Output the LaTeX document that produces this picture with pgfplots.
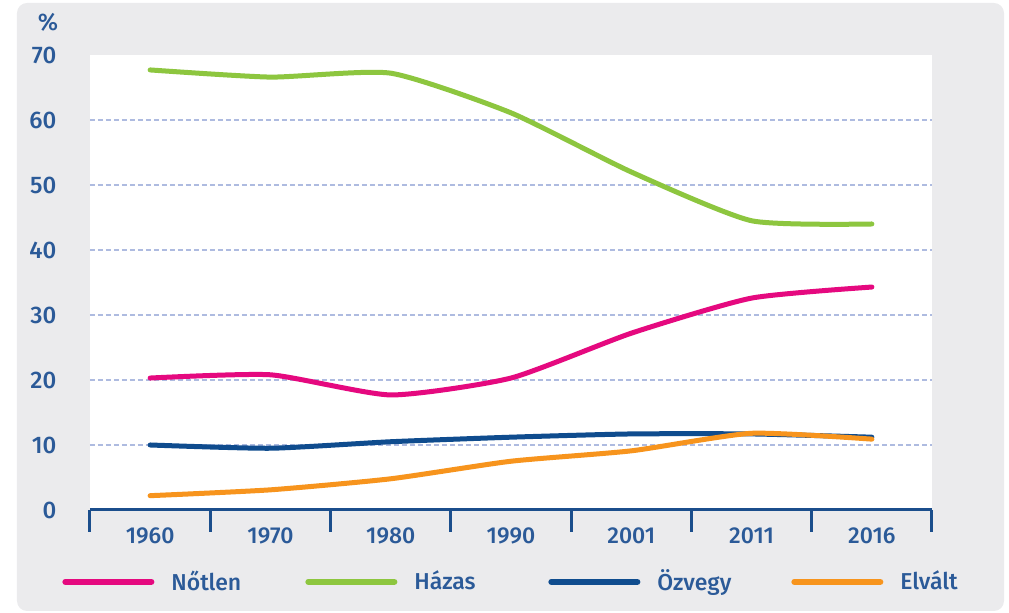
\documentclass[border=0pt]{standalone}
\usepackage{fontspec}
\setmainfont{Fira Sans}[UprightFont={* Medium}]
\usepackage{pgfplots}
\pgfplotsset{compat=1.18}

\definecolor{bgpanel}{HTML}{EBEBED}
\definecolor{txtblue}{HTML}{2B5A98}
\definecolor{axblue}{HTML}{1B4E8C}
\definecolor{gridblue}{HTML}{AEBBE0}
\definecolor{cNotlen}{HTML}{E5097F}
\definecolor{cHazas}{HTML}{8DC63F}
\definecolor{cOzvegy}{HTML}{0F4C8E}
\definecolor{cElvalt}{HTML}{F7941D}

\begin{document}
\begin{tikzpicture}
% page bounds and grey panel (1px = 0.5pt)
\path (-45pt,-51.5pt) rectangle (459.5pt,255pt);
\fill[bgpanel, rounded corners=5pt] (-36.5pt,-50.5pt) rectangle (457pt,253.5pt);
\begin{axis}[
    at={(0,0)}, anchor=south west,
    scale only axis,
    width=421pt, height=227.5pt,
    axis background/.style={fill=white},
    xmin=-0.5, xmax=6.5,
    ymin=0, ymax=70,
    separate axis lines,
    axis x line*=bottom,
    axis y line*=left,
    x axis line style={-, draw=axblue, line width=1.5pt},
    y axis line style={draw=none},
    xtick={0,...,6},
    xticklabels={1960,1970,1980,1990,2001,2011,2016},
    minor xtick={-0.5,0.5,...,6.5},
    major x tick style={draw=none},
    minor x tick style={draw=axblue, line width=1.5pt},
    minor tick length=11pt,
    tick align=outside,
    ytick={10,20,...,60},
    extra y ticks={0,70},
    extra y tick style={grid=none},
    ymajorgrids,
    grid style={gridblue, line width=0.6pt, dash pattern=on 2.5pt off 1.5pt},
    ytick style={draw=none},
    /pgf/number format/assume math mode=true,
    yticklabel style={font=\fontsize{12}{14}\selectfont, text=txtblue, anchor=east, xshift=-9pt},
    xticklabel style={font=\fontsize{11.5}{13}\selectfont, text=txtblue, yshift=-1pt},
    clip=false,
    every axis plot/.append style={line width=2.5pt, line cap=round, line join=round, smooth, tension=0.35},
    legend columns=4,
    legend style={at={(-0.0333,-0.158)}, anchor=west, draw=none, fill=none,
        inner sep=0pt, nodes={inner sep=0pt},
        font=\fontsize{11.5}{14}\selectfont, text=txtblue,
        /tikz/every odd column/.append style={column sep=8.5pt}},
    legend image code/.code={\draw[#1, line width=3pt, line cap=round] (0pt,0pt) -- (43pt,0pt);},
]
\addplot[cNotlen] coordinates {(0,20.3) (1,20.8) (2,17.7) (3,20.3) (4,27.2) (5,32.6) (6,34.3)};
\addlegendentry{\makebox[67pt][l]{Nőtlen}}
\addplot[cHazas] coordinates {(0,67.7) (1,66.6) (2,67.2) (3,61.1) (4,52.0) (5,44.5) (6,44.0)};
\addlegendentry{\makebox[67pt][l]{Házas}}
\addplot[cOzvegy] coordinates {(0,10.0) (1,9.5) (2,10.5) (3,11.2) (4,11.7) (5,11.7) (6,11.2)};
\addlegendentry{\makebox[67pt][l]{Özvegy}}
\addplot[cElvalt] coordinates {(0,2.2) (1,3.1) (2,4.8) (3,7.5) (4,9.1) (5,11.8) (6,10.9)};
\addlegendentry{Elvált}
\node[anchor=center, text=txtblue, font=\fontsize{12}{14}\selectfont] at (rel axis cs:-0.05,1.072) {\%};
\end{axis}
\end{tikzpicture}
\end{document}
